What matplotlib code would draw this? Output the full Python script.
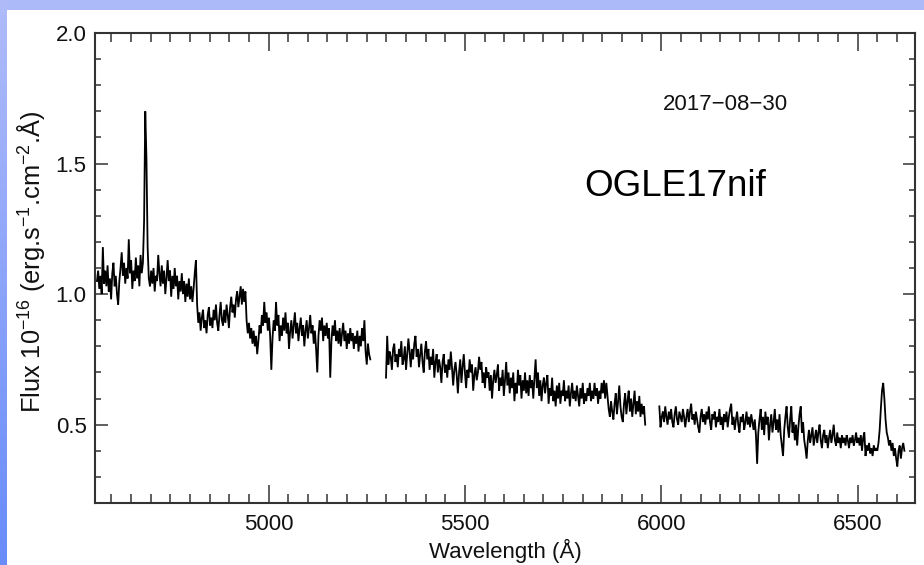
import numpy as np
import matplotlib
matplotlib.use("Agg")
import matplotlib.pyplot as plt
from matplotlib.ticker import MultipleLocator

plt.rcParams['font.family'] = ['Liberation Sans', 'DejaVu Sans']
plt.rcParams['mathtext.fontset'] = 'custom'
plt.rcParams['mathtext.rm'] = 'Liberation Sans'
plt.rcParams['mathtext.it'] = 'Liberation Sans'

# ---- data ----
seg1_start, seg2_start, seg3_start, step = 4563, 5299, 5995, 3

flux_seg1 = [
    1.05, 1.09, 1.02, 1.07, 1.00, 1.18, 1.04, 1.09, 1.03, 1.11,
    1.01, 1.06, 0.98, 1.08, 1.12, 1.03, 1.07, 1.00, 0.96, 1.05,
    1.10, 1.16, 1.07, 1.12, 1.04, 1.10, 1.06, 1.21, 1.08, 1.13,
    1.02, 1.09, 1.05, 1.14, 1.06, 1.11, 1.03, 1.15, 1.08, 1.12,
    1.28, 1.70, 1.52, 1.18, 1.06, 1.03, 1.09, 1.04, 1.10, 1.01,
    1.07, 1.05, 1.15, 1.08, 1.03, 1.11, 1.04, 1.09, 1.00, 1.06,
    1.13, 1.05, 1.09, 0.99, 1.07, 1.02, 1.10, 1.03, 1.07, 0.98,
    1.05, 1.01, 1.08, 1.00, 1.05, 0.97, 1.04, 0.99, 1.06, 0.98,
    1.03, 0.97, 1.02, 1.08, 1.13, 0.96, 0.89, 0.93, 0.86, 0.91,
    0.94, 0.87, 0.90, 0.85, 0.92, 0.95, 0.88, 0.91, 0.87, 0.94,
    0.90, 0.96, 0.89, 0.86, 0.92, 0.97, 0.90, 0.88, 0.94, 0.89,
    0.96, 0.92, 0.87, 0.95, 0.99, 0.93, 0.96, 0.91, 0.98, 1.01,
    0.95, 0.99, 1.03, 0.96, 1.02, 0.97, 1.01, 0.90, 0.85, 0.89,
    0.83, 0.87, 0.81, 0.86, 0.80, 0.84, 0.77, 0.82, 0.88, 0.85,
    0.92, 0.88, 0.97, 0.89, 0.93, 0.86, 0.91, 0.84, 0.71, 0.83,
    0.90, 0.86, 0.97, 0.88, 0.92, 0.82, 0.88, 0.84, 0.91, 0.86,
    0.93, 0.85, 0.89, 0.79, 0.86, 0.90, 0.83, 0.88, 0.93, 0.85,
    0.89, 0.82, 0.87, 0.91, 0.84, 0.88, 0.80, 0.86, 0.90, 0.83,
    0.87, 0.92, 0.85, 0.88, 0.81, 0.86, 0.79, 0.70, 0.84, 0.90,
    0.86, 0.91, 0.82, 0.88, 0.84, 0.89, 0.83, 0.87, 0.68, 0.82,
    0.88, 0.84, 0.90, 0.82, 0.86, 0.81, 0.87, 0.80, 0.85, 0.89,
    0.82, 0.86, 0.79, 0.85, 0.81, 0.87, 0.82, 0.85, 0.79, 0.84,
    0.81, 0.86, 0.78, 0.84, 0.80, 0.87, 0.82, 0.90, 0.78, 0.73,
    0.81, 0.77, 0.75,
]

flux_seg2 = [
    0.68, 0.84, 0.73, 0.78, 0.76, 0.71, 0.79, 0.81, 0.74, 0.77,
    0.72, 0.79, 0.76, 0.82, 0.73, 0.75, 0.80, 0.71, 0.77, 0.83,
    0.78, 0.72, 0.79, 0.75, 0.81, 0.84, 0.76, 0.79, 0.72, 0.77,
    0.81, 0.74, 0.70, 0.78, 0.82, 0.75, 0.79, 0.71, 0.76, 0.73,
    0.79, 0.68, 0.74, 0.77, 0.70, 0.75, 0.72, 0.66, 0.74, 0.77,
    0.70, 0.73, 0.68, 0.75, 0.71, 0.78, 0.72, 0.65, 0.71, 0.74,
    0.69, 0.62, 0.70, 0.75, 0.66, 0.72, 0.77, 0.70, 0.64, 0.71,
    0.68, 0.75, 0.70, 0.73, 0.63, 0.69, 0.72, 0.67, 0.70, 0.76,
    0.71, 0.74, 0.66, 0.70, 0.64, 0.72, 0.68, 0.70, 0.63, 0.69,
    0.60, 0.67, 0.71, 0.66, 0.69, 0.73, 0.63, 0.68, 0.65, 0.71,
    0.61, 0.67, 0.74, 0.65, 0.70, 0.62, 0.68, 0.64, 0.70, 0.59,
    0.66, 0.62, 0.71, 0.65, 0.69, 0.60, 0.67, 0.63, 0.70, 0.62,
    0.67, 0.61, 0.69, 0.64, 0.67, 0.60, 0.68, 0.75, 0.64, 0.70,
    0.61, 0.67, 0.59, 0.65, 0.68, 0.62, 0.66, 0.69, 0.58, 0.64,
    0.61, 0.68, 0.59, 0.63, 0.57, 0.65, 0.60, 0.66, 0.58, 0.63,
    0.61, 0.67, 0.59, 0.63, 0.60, 0.65, 0.57, 0.62, 0.66, 0.60,
    0.63, 0.59, 0.65, 0.61, 0.57, 0.64, 0.60, 0.66, 0.58, 0.62,
    0.59, 0.64, 0.61, 0.66, 0.59, 0.63, 0.60, 0.66, 0.61, 0.64,
    0.58, 0.63, 0.60, 0.66, 0.62, 0.67, 0.60, 0.66, 0.61, 0.56,
    0.53, 0.59, 0.55, 0.52, 0.58, 0.62, 0.54, 0.59, 0.65, 0.57,
    0.53, 0.51, 0.58, 0.62, 0.54, 0.59, 0.63, 0.55, 0.60, 0.53,
    0.58, 0.63, 0.54, 0.59, 0.55, 0.61, 0.53, 0.58, 0.54, 0.57,
    0.50,
]

flux_seg3 = [
    0.57, 0.49, 0.53, 0.55, 0.51, 0.57, 0.53, 0.50, 0.55, 0.52,
    0.56, 0.51, 0.49, 0.54, 0.57, 0.52, 0.50, 0.55, 0.53, 0.51,
    0.56, 0.53, 0.49, 0.53, 0.56, 0.51, 0.55, 0.58, 0.52, 0.54,
    0.50, 0.55, 0.52, 0.49, 0.47, 0.53, 0.56, 0.51, 0.54, 0.50,
    0.55, 0.52, 0.57, 0.51, 0.48, 0.54, 0.52, 0.55, 0.49, 0.53,
    0.51, 0.56, 0.50, 0.53, 0.48, 0.54, 0.51, 0.55, 0.49, 0.53,
    0.56, 0.58, 0.50, 0.53, 0.48, 0.52, 0.55, 0.50, 0.47, 0.53,
    0.51, 0.54, 0.48, 0.51, 0.55, 0.50, 0.53, 0.49, 0.54, 0.51,
    0.48, 0.52, 0.46, 0.35, 0.47, 0.52, 0.56, 0.48, 0.53, 0.46,
    0.55, 0.50, 0.53, 0.44, 0.50, 0.54, 0.47, 0.51, 0.56, 0.48,
    0.52, 0.47, 0.54, 0.46, 0.42, 0.38, 0.48, 0.53, 0.57, 0.49,
    0.45, 0.52, 0.57, 0.47, 0.51, 0.44, 0.50, 0.42, 0.49, 0.54,
    0.57, 0.47, 0.51, 0.44, 0.41, 0.37, 0.44, 0.48, 0.43, 0.46,
    0.49, 0.42, 0.45, 0.48, 0.43, 0.47, 0.50, 0.44, 0.41, 0.46,
    0.48, 0.43, 0.46, 0.41, 0.45, 0.48, 0.43, 0.46, 0.50, 0.44,
    0.42, 0.47, 0.43, 0.45, 0.41, 0.46, 0.43, 0.45, 0.42, 0.46,
    0.44, 0.41, 0.45, 0.43, 0.46, 0.42, 0.44, 0.47, 0.43, 0.45,
    0.42, 0.46, 0.40, 0.45, 0.47, 0.38, 0.42, 0.40, 0.43, 0.39,
    0.41, 0.38, 0.42, 0.40, 0.41, 0.40, 0.43, 0.48, 0.56, 0.63,
    0.66, 0.60, 0.52, 0.47, 0.45, 0.42, 0.44, 0.40, 0.43, 0.38,
    0.41, 0.37, 0.34, 0.40, 0.42, 0.37, 0.41, 0.43, 0.40,
]

x_ticks = [5000, 5500, 6000, 6500]
y_ticks = [0.5, 1.0, 1.5, 2.0]
x_limits = (4558, 6646)
y_limits = (0.2, 2.0)

date_label = "2017\u221208\u221230"
object_label = "OGLE17nif"

# ---- figure ----
W, H = 924, 565
fig = plt.figure(figsize=(W / 100, H / 100), dpi=100)

# slide background: white with blue bands on top and left
bg = np.ones((H, W, 3))
top_col = np.array([172, 186, 249]) / 255
bg[:10, :, :] = top_col
grad = np.linspace(0, 1, H)[:, None]
left_top = np.array([176, 188, 249]) / 255
left_bot = np.array([104, 140, 250]) / 255
bg[:, :7, :] = (left_top * (1 - grad) + left_bot * grad)[:, None, :]
bax = fig.add_axes([0, 0, 1, 1], zorder=-10)
bax.imshow(bg, aspect='auto', interpolation='nearest')
bax.axis('off')

ax = fig.add_axes([95 / W, 1 - 503 / H, 820 / W, 470 / H])
ax.set_facecolor('none')

for start, flux in [(seg1_start, flux_seg1), (seg2_start, flux_seg2), (seg3_start, flux_seg3)]:
    wl = start + step * np.arange(len(flux))
    ax.plot(wl, flux, color='black', lw=1.3, solid_joinstyle='miter')

ax.set_xlim(*x_limits)
ax.set_ylim(*y_limits)
ax.set_xticks(x_ticks)
ax.set_yticks(y_ticks)
ax.set_yticklabels([f"{v:.1f}" for v in y_ticks])
ax.xaxis.set_minor_locator(MultipleLocator(50))
ax.yaxis.set_minor_locator(MultipleLocator(0.1))

for s in ax.spines.values():
    s.set_color('#333333')
    s.set_linewidth(1.5)

ax.tick_params(axis='both', which='both', direction='in', top=True, right=True,
               color='#333333', width=1.1, labelsize=16, labelcolor='#111111')
ax.tick_params(axis='x', which='major', length=13.3, pad=8)
ax.tick_params(axis='x', which='minor', length=6.5)
ax.tick_params(axis='y', which='major', length=9, pad=6)
ax.tick_params(axis='y', which='minor', length=4.3)

fig.text(505 / W, 1 - 551 / H, "Wavelength (\u00c5)", ha='center', va='center',
         fontsize=16, color='#111111')
fig.text(31 / W, 1 - 262 / H,
         r"Flux 10$^{-16}$ (erg.s$^{-1}$.cm$^{-2}$.$\mathrm{\AA}$)",
         rotation=90, ha='center', va='center', fontsize=18.3, color='#111111')

ax.text((725 - 95) / 820, (503 - 104) / 470, date_label, transform=ax.transAxes,
        ha='center', va='center', fontsize=16, color='#111111')
ax.text((675 - 95) / 820, (503 - 187) / 470, object_label, transform=ax.transAxes,
        ha='center', va='center', fontsize=26.5, color='black')

fig.savefig("out.png", dpi=100)
